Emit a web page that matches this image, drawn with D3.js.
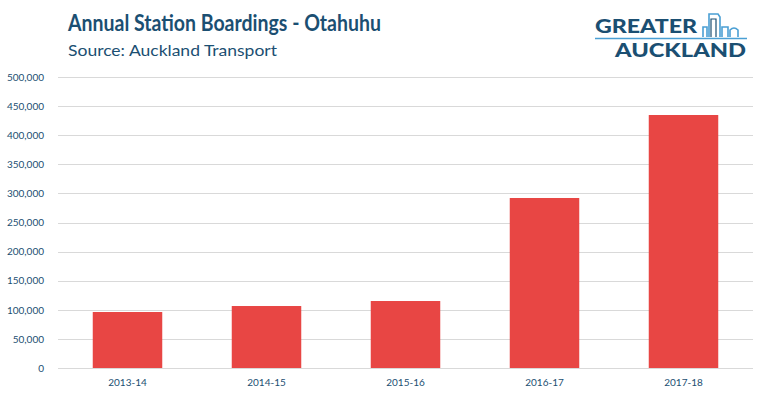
<!DOCTYPE html>
<html>
<head>
<meta charset="utf-8">
<script src="https://cdn.jsdelivr.net/npm/d3@7"></script>
<style>
  body { margin: 0; background: #fff; }
  svg { display: block; font-family: Lato, "Open Sans", sans-serif; }
</style>
</head>
<body>
<script>
// chart data
const seasons = ["2013-14", "2014-15", "2015-16", "2016-17", "2017-18"];
const boardings = [96200, 106500, 115100, 292100, 434700];
const yTicks = [0, 50000, 100000, 150000, 200000, 250000, 300000, 350000, 400000, 450000, 500000];

const W = 767, H = 399;
const navy = "#1b4f72";
const margin = { top: 77, right: 14, bottom: 31, left: 58 };
const width = W - margin.left - margin.right;
const height = H - margin.top - margin.bottom;

const svg = d3.select("body").append("svg")
    .attr("width", W)
    .attr("height", H);

// title + source
svg.append("text")
    .attr("x", 68).attr("y", 31)
    .attr("font-size", 22).attr("font-weight", 700)
    .attr("fill", navy)
    .attr("textLength", 313).attr("lengthAdjust", "spacingAndGlyphs")
    .text("Annual Station Boardings - Otahuhu");

svg.append("text")
    .attr("x", 68).attr("y", 56)
    .attr("font-size", 16)
    .attr("fill", navy)
    .attr("textLength", 209).attr("lengthAdjust", "spacingAndGlyphs")
    .text("Source: Auckland Transport");

// logo
const logo = svg.append("g");
logo.append("text")
    .attr("x", 595).attr("y", 33)
    .attr("font-size", 18).attr("font-weight", 900)
    .attr("fill", navy)
    .attr("textLength", 102).attr("lengthAdjust", "spacingAndGlyphs")
    .text("GREATER");
logo.append("text")
    .attr("x", 615).attr("y", 57)
    .attr("font-size", 18).attr("font-weight", 900)
    .attr("fill", navy)
    .attr("textLength", 131).attr("lengthAdjust", "spacingAndGlyphs")
    .text("AUCKLAND");
logo.append("line")
    .attr("x1", 595).attr("x2", 747)
    .attr("y1", 38.5).attr("y2", 38.5)
    .attr("stroke", "#4a9fd4").attr("stroke-width", 1.5);
// little skyline
const sky = "#4a9fd4";
logo.append("path")
    .attr("d", "M703,37 V27 H707 V37 M709,37 V14 H718 L720,17 V37 M722,37 V27 H728 V37 M730,37 V30 Q734,26 738,30 V37")
    .attr("fill", "none").attr("stroke", sky).attr("stroke-width", 1.6);
logo.append("path")
    .attr("d", "M711,37 V19 H716 V37")
    .attr("fill", "none").attr("stroke", navy).attr("stroke-width", 1.2);

const g = svg.append("g")
    .attr("transform", `translate(${margin.left},${margin.top})`);

// scales
const x = d3.scaleBand()
    .domain(seasons)
    .range([0, width])
    .paddingInner(0.5)
    .paddingOuter(0.25);

const y = d3.scaleLinear()
    .domain([0, 500000])
    .range([height, 0]);

// gridlines
g.append("g")
    .selectAll("line")
    .data(yTicks)
    .enter()
    .append("line")
    .attr("x1", 0).attr("x2", width)
    .attr("y1", d => Math.round(y(d)) + 0.5)
    .attr("y2", d => Math.round(y(d)) + 0.5)
    .attr("stroke", "#d9d9d9")
    .attr("stroke-width", 1);

// y axis labels
const yAxis = g.append("g")
    .attr("transform", "translate(-11,0)")
    .call(d3.axisLeft(y).tickValues(yTicks).tickSize(0).tickFormat(d3.format(",")));
yAxis.select(".domain").remove();
yAxis.selectAll("text")
    .attr("fill", navy)
    .attr("font-size", 10)
    .attr("font-family", "Lato, sans-serif");

// bars
g.selectAll(".bar")
    .data(boardings)
    .enter()
    .append("rect")
    .attr("class", "bar")
    .attr("x", (d, i) => x(seasons[i]))
    .attr("y", d => y(d))
    .attr("width", x.bandwidth())
    .attr("height", d => height - y(d))
    .attr("fill", "#e84644");

// x axis
const xAxis = g.append("g")
    .attr("transform", `translate(0,${height})`)
    .call(d3.axisBottom(x).tickSize(0).tickPadding(11));
xAxis.select(".domain").remove();
xAxis.selectAll("text")
    .attr("fill", navy)
    .attr("font-size", 10)
    .attr("font-family", "Lato, sans-serif");
</script>
</body>
</html>
